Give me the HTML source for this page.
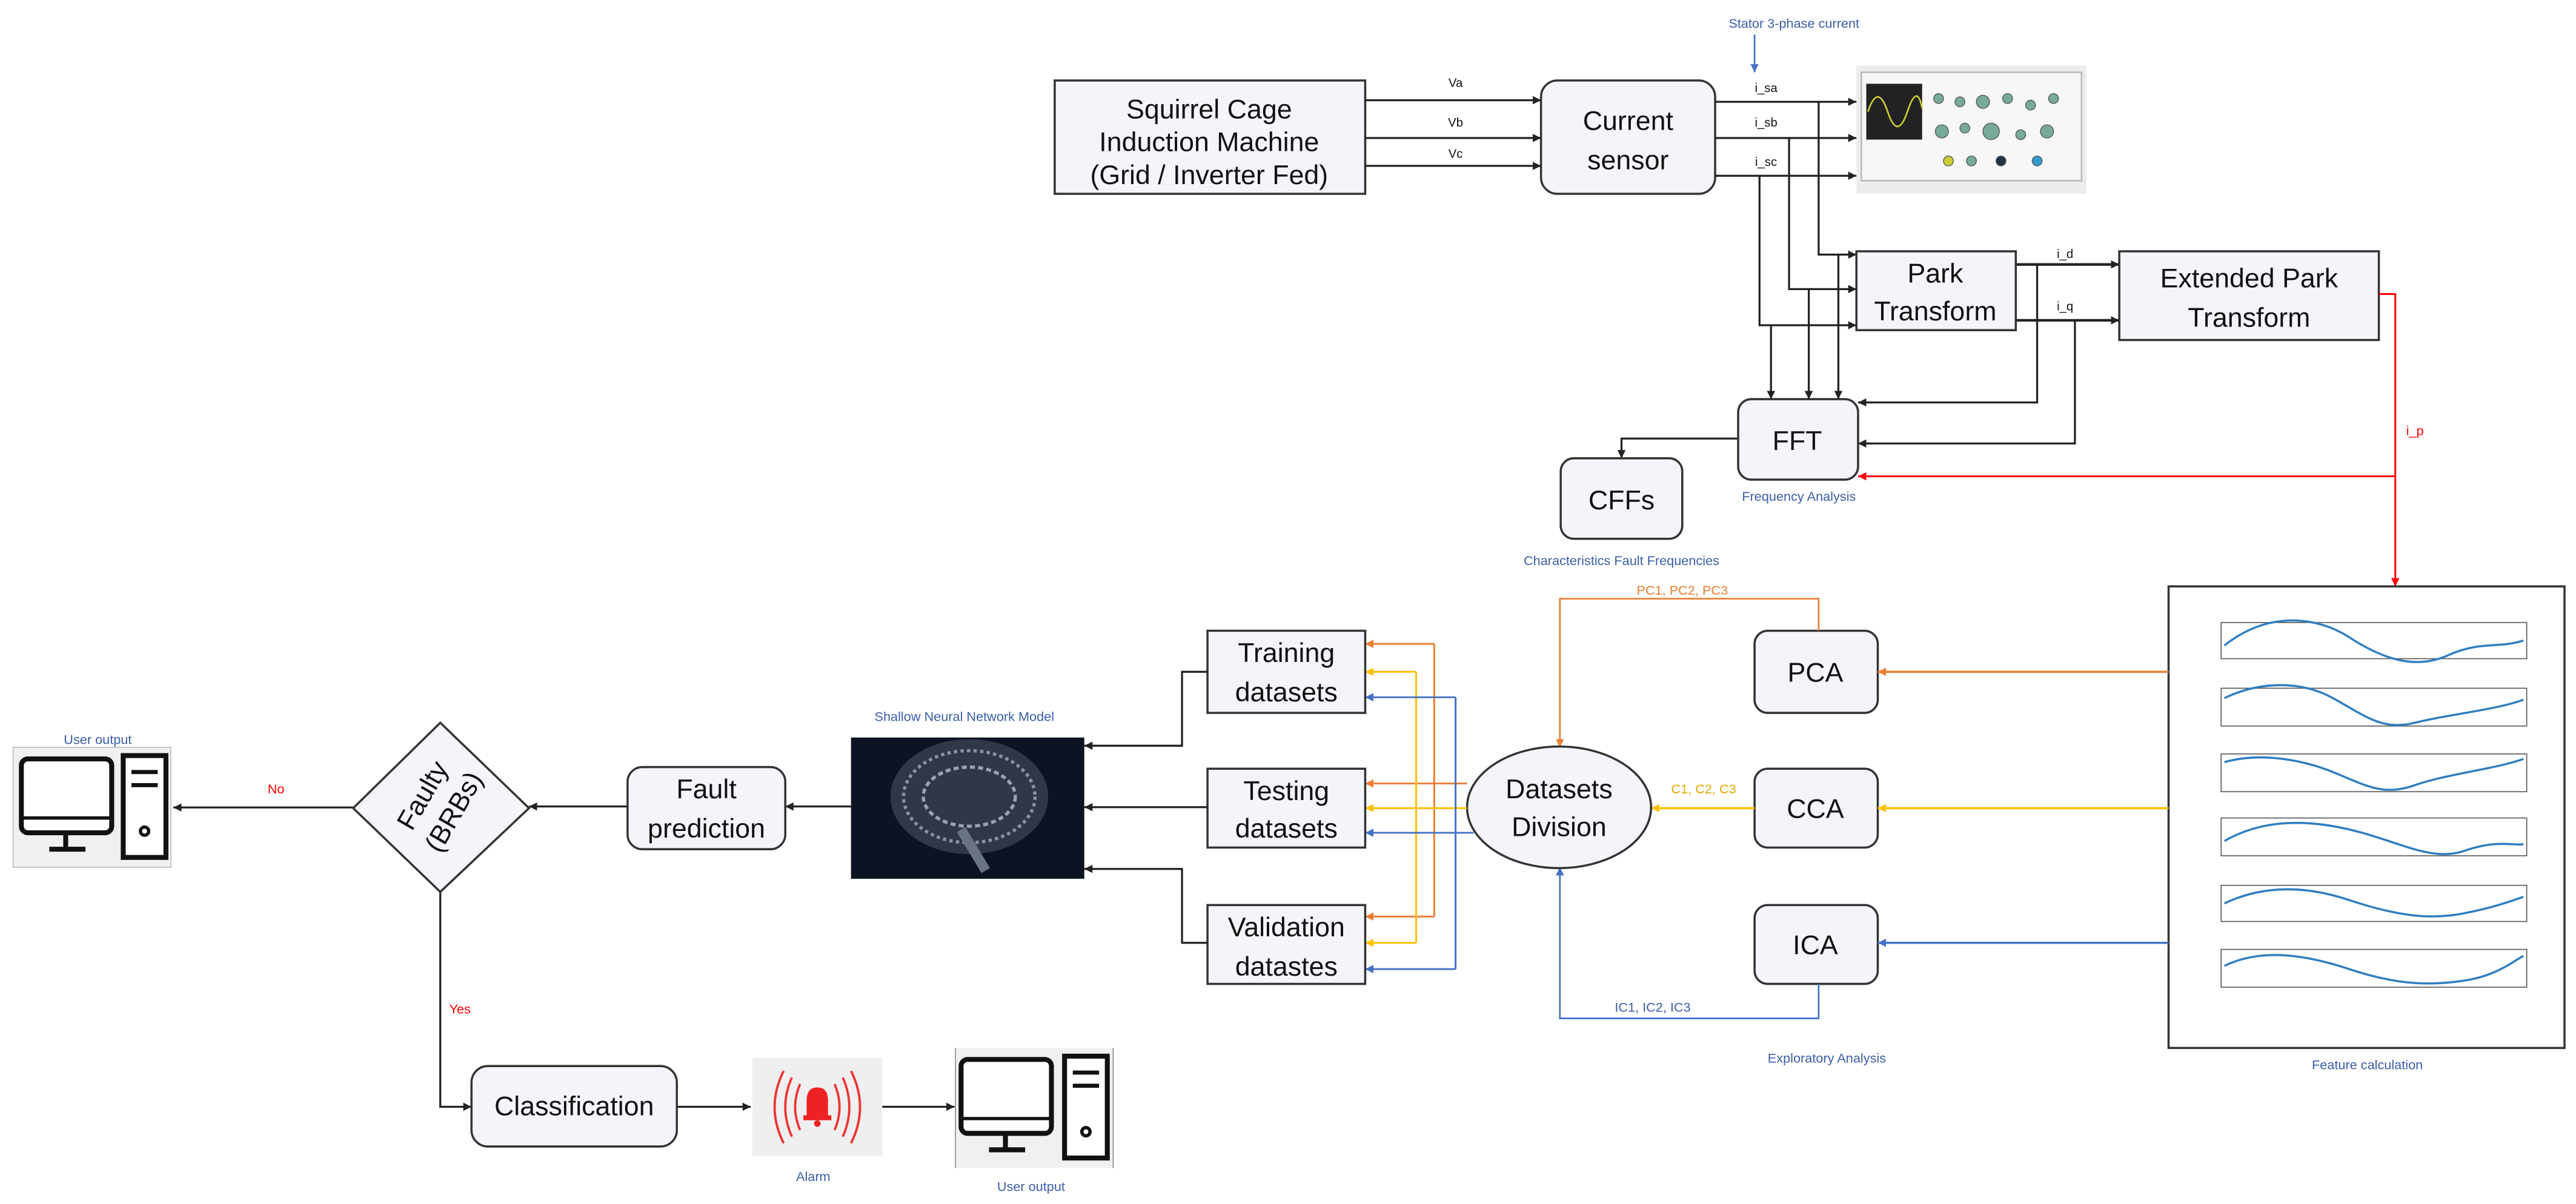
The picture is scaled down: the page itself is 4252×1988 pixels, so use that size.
<!DOCTYPE html>
<html><head><meta charset="utf-8"><style>
html,body{margin:0;padding:0;background:#fff;}
svg{display:block;}
text{font-family:"Liberation Sans",sans-serif;}
.b{fill:#f3f5fa;stroke:#333;stroke-width:1.3;}
.t{font-size:16.5px;fill:#111;text-anchor:middle;}
.s{font-size:7.5px;fill:#111;text-anchor:middle;}
.bl{font-size:8px;fill:#3a5ea8;text-anchor:middle;}
.k{stroke:#222;stroke-width:1.2;fill:none;}
</style></head><body>
<svg width="4252" height="1988" viewBox="0 0 1568 733" preserveAspectRatio="none" xmlns="http://www.w3.org/2000/svg">
<defs>
<marker id="ak" markerWidth="6" markerHeight="6" refX="5" refY="3" orient="auto" markerUnits="userSpaceOnUse"><path d="M0,0.5 L5,3 L0,5.5z" fill="#222"/></marker>
<marker id="ar" markerWidth="6" markerHeight="6" refX="5" refY="3" orient="auto" markerUnits="userSpaceOnUse"><path d="M0,0.5 L5,3 L0,5.5z" fill="#f00"/></marker>
<marker id="ao" markerWidth="6" markerHeight="6" refX="5" refY="3" orient="auto" markerUnits="userSpaceOnUse"><path d="M0,0.5 L5,3 L0,5.5z" fill="#ed7d31"/></marker>
<marker id="ay" markerWidth="6" markerHeight="6" refX="5" refY="3" orient="auto" markerUnits="userSpaceOnUse"><path d="M0,0.5 L5,3 L0,5.5z" fill="#ffc000"/></marker>
<marker id="ab" markerWidth="6" markerHeight="6" refX="5" refY="3" orient="auto" markerUnits="userSpaceOnUse"><path d="M0,0.5 L5,3 L0,5.5z" fill="#4472c4"/></marker>
</defs>

<!-- top section -->
<text x="1092" y="17" class="bl">Stator 3-phase current</text>
<line x1="1068" y1="21" x2="1068" y2="44" stroke="#4472c4" stroke-width="1" marker-end="url(#ab)"/>
<rect x="642" y="49" width="189" height="69" class="b"/>
<text x="736" y="72" class="t">Squirrel Cage</text>
<text x="736" y="92" class="t">Induction Machine</text>
<text x="736" y="112" class="t">(Grid / Inverter Fed)</text>
<rect x="938" y="49" width="106" height="69" rx="10" class="b"/>
<text x="991" y="79" class="t">Current</text>
<text x="991" y="103" class="t">sensor</text>
<g class="k" stroke-width="1.6">
<line x1="831" y1="61" x2="938" y2="61" marker-end="url(#ak)"/>
<line x1="831" y1="84" x2="938" y2="84" marker-end="url(#ak)"/>
<line x1="831" y1="101" x2="938" y2="101" marker-end="url(#ak)"/>
<line x1="1044" y1="62" x2="1130" y2="62" marker-end="url(#ak)"/>
<line x1="1044" y1="84" x2="1130" y2="84" marker-end="url(#ak)"/>
<line x1="1044" y1="107" x2="1130" y2="107" marker-end="url(#ak)"/>
</g>
<text x="886" y="53" class="s">Va</text><text x="886" y="77" class="s">Vb</text><text x="886" y="96" class="s">Vc</text>
<text x="1075" y="56" class="s">i_sa</text><text x="1075" y="77" class="s">i_sb</text><text x="1075" y="101" class="s">i_sc</text>
<!-- oscilloscope -->
<rect x="1130" y="40" width="140" height="78" fill="#ececec"/>
<rect x="1133" y="44" width="134" height="66" fill="#f7f7f7" stroke="#bbb"/>
<rect x="1136" y="51" width="34" height="34" fill="#222"/>
<path d="M1137,68 Q1143,50 1149,68 T1161,68 T1170,66" stroke="#cc3" fill="none" stroke-width="1"/>
<g fill="#7a9" stroke="#555" stroke-width="0.5">
<circle cx="1180" cy="60" r="3"/><circle cx="1193" cy="62" r="3"/><circle cx="1207" cy="62" r="4"/><circle cx="1222" cy="60" r="3"/><circle cx="1236" cy="64" r="3"/><circle cx="1250" cy="60" r="3"/>
<circle cx="1182" cy="80" r="4"/><circle cx="1196" cy="78" r="3"/><circle cx="1212" cy="80" r="5"/><circle cx="1230" cy="82" r="3"/><circle cx="1246" cy="80" r="4"/>
<circle cx="1186" cy="98" r="3" fill="#cc3"/><circle cx="1200" cy="98" r="3"/><circle cx="1218" cy="98" r="3" fill="#234"/><circle cx="1240" cy="98" r="3" fill="#39c"/>
</g>

<!-- park / fft wiring -->
<g class="k">
<polyline points="1107,62 1107,155 1130,155" marker-end="url(#ak)"/>
<polyline points="1089,84 1089,176 1130,176" marker-end="url(#ak)"/>
<polyline points="1071,107 1071,198 1130,198" marker-end="url(#ak)"/>
<line x1="1119" y1="155" x2="1119" y2="243" marker-end="url(#ak)"/>
<line x1="1101" y1="176" x2="1101" y2="243" marker-end="url(#ak)"/>
<line x1="1078" y1="198" x2="1078" y2="243" marker-end="url(#ak)"/>
<line x1="1227" y1="161" x2="1290" y2="161" stroke-width="1.6" marker-end="url(#ak)"/>
<line x1="1227" y1="195" x2="1290" y2="195" stroke-width="1.6" marker-end="url(#ak)"/>
<polyline points="1240,161 1240,245 1131,245" marker-end="url(#ak)"/>
<polyline points="1263,195 1263,270 1131,270" marker-end="url(#ak)"/>
<polyline points="1058,267 987,267 987,279" marker-end="url(#ak)"/>
</g>
<rect x="1130" y="153" width="97" height="48" class="b"/>
<text x="1178" y="172" class="t">Park</text><text x="1178" y="195" class="t">Transform</text>
<rect x="1290" y="153" width="158" height="54" class="b"/>
<text x="1369" y="175" class="t">Extended Park</text><text x="1369" y="199" class="t">Transform</text>
<text x="1257" y="157" class="s">i_d</text><text x="1257" y="189" class="s">i_q</text>
<rect x="1058" y="243" width="73" height="49" rx="8" class="b"/>
<text x="1094" y="274" class="t">FFT</text>
<rect x="950" y="279" width="74" height="49" rx="8" class="b"/>
<text x="987" y="310" class="t">CFFs</text>
<text x="1095" y="305" class="bl">Frequency Analysis</text>
<text x="987" y="344" class="bl">Characteristics Fault Frequencies</text>
<polyline points="1448,179 1458,179 1458,357" stroke="#f00" stroke-width="1.1" fill="none" marker-end="url(#ar)"/>
<line x1="1458" y1="290" x2="1131" y2="290" stroke="#f00" stroke-width="1.1" marker-end="url(#ar)"/>
<text x="1470" y="265" font-size="8" fill="#f00" text-anchor="middle">i_p</text>

<!-- feature box -->
<rect x="1320" y="357" width="241" height="281" fill="#fff" stroke="#333" stroke-width="1.3"/>
<g fill="none" stroke-width="0.6">
<rect x="1352" y="379" width="186" height="22" stroke="#555"/>
<rect x="1352" y="419" width="186" height="23" stroke="#555"/>
<rect x="1352" y="459" width="186" height="23" stroke="#555"/>
<rect x="1352" y="498" width="186" height="23" stroke="#555"/>
<rect x="1352" y="539" width="186" height="22" stroke="#555"/>
<rect x="1352" y="578" width="186" height="23" stroke="#555"/>
</g>
<g fill="none" stroke="#2f7fc1" stroke-width="1.3">
<path d="M1354,393 C1380,372 1410,375 1430,388 S1470,408 1490,399 S1520,395 1536,390"/>
<path d="M1354,425 C1375,415 1400,414 1420,425 S1450,445 1470,440 S1520,432 1536,426"/>
<path d="M1354,464 C1375,458 1400,462 1420,470 S1450,485 1470,478 S1520,468 1536,462"/>
<path d="M1354,512 C1375,500 1400,498 1430,505 S1480,525 1500,518 S1530,515 1536,514"/>
<path d="M1354,550 C1375,540 1400,538 1430,548 S1480,560 1500,556 S1530,548 1536,546"/>
<path d="M1354,588 C1375,578 1400,580 1430,590 S1480,600 1500,597 S1530,585 1536,582"/>
</g>
<text x="1441" y="651" class="bl">Feature calculation</text>

<!-- PCA/CCA/ICA -->
<rect x="1068" y="384" width="75" height="50" rx="8" class="b"/><text x="1105" y="415" class="t">PCA</text>
<rect x="1068" y="468" width="75" height="48" rx="8" class="b"/><text x="1105" y="498" class="t">CCA</text>
<rect x="1068" y="551" width="75" height="48" rx="8" class="b"/><text x="1105" y="581" class="t">ICA</text>
<line x1="1320" y1="409" x2="1143" y2="409" stroke="#ed7d31" stroke-width="1.3" marker-end="url(#ao)"/>
<line x1="1320" y1="492" x2="1143" y2="492" stroke="#ffc000" stroke-width="1.3" marker-end="url(#ay)"/>
<line x1="1320" y1="574" x2="1143" y2="574" stroke="#4472c4" stroke-width="1.3" marker-end="url(#ab)"/>
<polyline points="1107,384 1107,364.5 949.5,364.5 949.5,455" stroke="#ed7d31" stroke-width="1" fill="none" marker-end="url(#ao)"/>
<line x1="1068" y1="492" x2="1005" y2="492" stroke="#ffc000" stroke-width="1.3" marker-end="url(#ay)"/>
<polyline points="1107,599 1107,620 949.5,620 949.5,528" stroke="#4472c4" stroke-width="1" fill="none" marker-end="url(#ab)"/>
<text x="1024" y="362" font-size="8" fill="#ed7d31" text-anchor="middle">PC1, PC2, PC3</text>
<text x="1037" y="483" font-size="8" fill="#e0a800" text-anchor="middle">C1, C2, C3</text>
<text x="1006" y="616" font-size="8" fill="#3a5ea8" text-anchor="middle">IC1, IC2, IC3</text>
<text x="1112" y="647" class="bl">Exploratory Analysis</text>
<ellipse cx="949" cy="491.5" rx="56" ry="37" class="b"/>
<text x="949" y="486" class="t">Datasets</text><text x="949" y="509" class="t">Division</text>

<!-- colored distribution -->
<g fill="none" stroke-width="1.1">
<g stroke="#ed7d31">
<line x1="893" y1="477" x2="831" y2="477" marker-end="url(#ao)"/>
<polyline points="873,392 873,558"/>
<line x1="873" y1="392" x2="831" y2="392" marker-end="url(#ao)"/>
<line x1="873" y1="558" x2="831" y2="558" marker-end="url(#ao)"/>
</g>
<g stroke="#ffc000">
<line x1="893" y1="492" x2="831" y2="492" marker-end="url(#ay)"/>
<polyline points="862,409 862,574"/>
<line x1="862" y1="409" x2="831" y2="409" marker-end="url(#ay)"/>
<line x1="862" y1="574" x2="831" y2="574" marker-end="url(#ay)"/>
</g>
<g stroke="#4472c4">
<line x1="897" y1="507" x2="831" y2="507" marker-end="url(#ab)"/>
<polyline points="886,424.5 886,590"/>
<line x1="886" y1="424.5" x2="831" y2="424.5" marker-end="url(#ab)"/>
<line x1="886" y1="590" x2="831" y2="590" marker-end="url(#ab)"/>
</g>
</g>
<rect x="735" y="384" width="96" height="50" class="b"/>
<text x="783" y="403" class="t">Training</text><text x="783" y="427" class="t">datasets</text>
<rect x="735" y="468" width="96" height="48" class="b"/>
<text x="783" y="487" class="t">Testing</text><text x="783" y="510" class="t">datasets</text>
<rect x="735" y="551" width="96" height="48" class="b"/>
<text x="783" y="570" class="t">Validation</text><text x="783" y="594" class="t">datastes</text>

<!-- brain -->
<g class="k" stroke-width="1.4">
<polyline points="735,409 719.5,409 719.5,454 660,454" marker-end="url(#ak)"/>
<line x1="735" y1="491.4" x2="660" y2="491.4" marker-end="url(#ak)"/>
<polyline points="735,574 719.5,574 719.5,529 660,529" marker-end="url(#ak)"/>
<line x1="518" y1="491" x2="478" y2="491" marker-end="url(#ak)"/>
<line x1="382" y1="491" x2="322" y2="491" marker-end="url(#ak)"/>
<line x1="215" y1="491.6" x2="105.5" y2="491.6" marker-end="url(#ak)"/>
<polyline points="268,543 268,673.8 287,673.8" marker-end="url(#ak)"/>
<line x1="412" y1="673.8" x2="457" y2="673.8" marker-end="url(#ak)"/>
<line x1="537" y1="673.8" x2="581" y2="673.8" marker-end="url(#ak)"/>
</g>
<rect x="518" y="449" width="142" height="86" fill="#0c1424"/>
<ellipse cx="590" cy="485" rx="48" ry="35" fill="#3a4150" opacity="0.8"/>
<ellipse cx="590" cy="485" rx="40" ry="28" fill="none" stroke="#8a93a3" stroke-width="2" stroke-dasharray="2 2"/>
<ellipse cx="590" cy="485" rx="28" ry="18" fill="none" stroke="#9aa3b3" stroke-width="2" stroke-dasharray="3 2"/>
<path d="M585,505 L600,530" stroke="#6a7383" stroke-width="6"/>
<text x="587" y="439" class="bl">Shallow Neural Network Model</text>
<rect x="382" y="467" width="96" height="50" rx="9" class="b"/>
<text x="430" y="486" class="t">Fault</text><text x="430" y="510" class="t">prediction</text>
<polygon points="268,440 322,492 268,543 215,492" class="b"/>
<text transform="translate(262,487) rotate(-60)" class="t" font-size="15">Faulty</text>
<text transform="translate(281,497) rotate(-60)" class="t" font-size="15">(BRBs)</text>
<text x="168" y="483" font-size="8" fill="#f00" text-anchor="middle">No</text>
<text x="280" y="617" font-size="8" fill="#f00" text-anchor="middle">Yes</text>

<!-- computer left -->
<rect x="8" y="455" width="96" height="73" fill="#f0f0f0" stroke="#bbb" stroke-width="0.6"/>
<rect x="13" y="462" width="55" height="45" rx="4" fill="#fff" stroke="#111" stroke-width="3"/>
<line x1="13" y1="498" x2="68" y2="498" stroke="#111" stroke-width="2"/>
<line x1="40" y1="507" x2="40" y2="517" stroke="#111" stroke-width="3"/>
<line x1="30" y1="517" x2="52" y2="517" stroke="#111" stroke-width="3"/>
<rect x="75" y="460" width="26" height="62" fill="#fff" stroke="#111" stroke-width="3"/>
<line x1="80" y1="470" x2="96" y2="470" stroke="#111" stroke-width="2.5"/>
<line x1="80" y1="478" x2="96" y2="478" stroke="#111" stroke-width="2.5"/>
<circle cx="88" cy="506" r="2.5" fill="none" stroke="#111" stroke-width="2"/>
<text x="59.5" y="453" class="bl">User output</text>

<!-- bottom -->
<rect x="287" y="649" width="125" height="49" rx="10" class="b"/>
<text x="349.5" y="679" class="t">Classification</text>
<rect x="458" y="644" width="79" height="60" fill="#efefef"/>
<g fill="none" stroke="#e33" stroke-width="1.4">
<path d="M477,652 Q466,674 477,696"/><path d="M482,656 Q474,674 482,692"/><path d="M487,660 Q481,674 487,688"/>
<path d="M518,652 Q529,674 518,696"/><path d="M513,656 Q521,674 513,692"/><path d="M508,660 Q514,674 508,688"/>
</g>
<path d="M491,680 L491,670 Q491,662 497.5,662 Q504,662 504,670 L504,680 Z" fill="#e22"/>
<rect x="489" y="679" width="17" height="3" fill="#e22"/><circle cx="497.5" cy="684" r="2" fill="#e22"/>
<text x="495" y="719" class="bl">Alarm</text>
<rect x="581.6" y="638" width="96" height="73" fill="#f0f0f0"/>
<line x1="581.6" y1="638" x2="581.6" y2="711" stroke="#888" stroke-width="0.6"/>
<line x1="677.6" y1="638" x2="677.6" y2="711" stroke="#888" stroke-width="0.6"/>
<rect x="585" y="645" width="55" height="45" rx="4" fill="#fff" stroke="#111" stroke-width="3"/>
<line x1="585" y1="681" x2="640" y2="681" stroke="#111" stroke-width="2"/>
<line x1="612" y1="690" x2="612" y2="700" stroke="#111" stroke-width="3"/>
<line x1="602" y1="700" x2="624" y2="700" stroke="#111" stroke-width="3"/>
<rect x="648" y="643" width="26" height="62" fill="#fff" stroke="#111" stroke-width="3"/>
<line x1="653" y1="653" x2="669" y2="653" stroke="#111" stroke-width="2.5"/>
<line x1="653" y1="661" x2="669" y2="661" stroke="#111" stroke-width="2.5"/>
<circle cx="661" cy="689" r="2.5" fill="none" stroke="#111" stroke-width="2"/>
<text x="627.6" y="725" class="bl">User output</text>
</svg>
</body></html>
